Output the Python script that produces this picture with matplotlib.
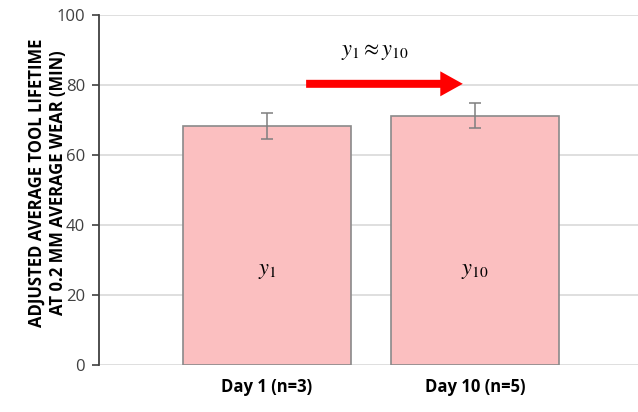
import numpy as np
import matplotlib.pyplot as plt

plt.rcParams['font.family'] = ['Open Sans', 'DejaVu Sans']
plt.rcParams['mathtext.fontset'] = 'stix'

categories = ['Day 1 (n=3)', 'Day 10 (n=5)']
lifetime = [68.3, 71.2]
errors = [3.7, 3.6]
bar_labels = [r'$y_1$', r'$y_{10}$']

fig = plt.figure(figsize=(6.38, 4.12), dpi=100)
ax = fig.add_axes([0.155, 0.114, 0.845, 0.850])

x = np.arange(len(categories))
ax.bar(x, lifetime, width=0.81, color='#fbbfc0', edgecolor='#8a8a8a', linewidth=1.2, zorder=3)
ax.errorbar(x, lifetime, yerr=errors, fmt='none', ecolor='#7f7f7f', elinewidth=1.1,
            capsize=4, capthick=1.1, zorder=4)

for xi, lab in zip(x, bar_labels):
    ax.text(xi, 27, lab, ha='center', va='center', fontsize=16, zorder=5)

# trend arrow between the two days
ax.annotate('', xy=(0.955, 80.3), xytext=(0.175, 80.3),
            arrowprops=dict(arrowstyle='simple, head_width=1.0, head_length=0.9, tail_width=0.32',
                            color='#ff0000', mutation_scale=18, lw=0), zorder=5)
ax.text(0.52, 89.5, r'$y_1 \approx y_{10}$', ha='center', va='center', fontsize=16)

ax.set_xlim(-0.808, 1.784)
ax.set_ylim(0, 100)
ax.set_yticks(np.arange(0, 101, 20))
ax.set_xticks(x)
ax.set_xticklabels(categories, fontsize=12, fontweight='bold')
ax.tick_params(axis='x', length=0, pad=9)
ax.tick_params(axis='y', length=5, width=1.2, color='#404040', labelsize=12,
               labelcolor='#404040', pad=5)
ax.yaxis.grid(True, color='#d9d9d9', linewidth=1.2, zorder=0)
ax.set_axisbelow(True)

for side in ['top', 'right', 'bottom']:
    ax.spines[side].set_visible(False)
ax.spines['left'].set_color('#404040')
ax.spines['left'].set_linewidth(1.3)

ax.set_ylabel('ADJUSTED AVERAGE TOOL LIFETIME\nAT 0.2 MM AVERAGE WEAR (MIN)',
              fontsize=12, fontweight='bold', linespacing=1.2)
ax.yaxis.set_label_coords(-0.06, 0.52)

fig.savefig('out.png', dpi=100)
